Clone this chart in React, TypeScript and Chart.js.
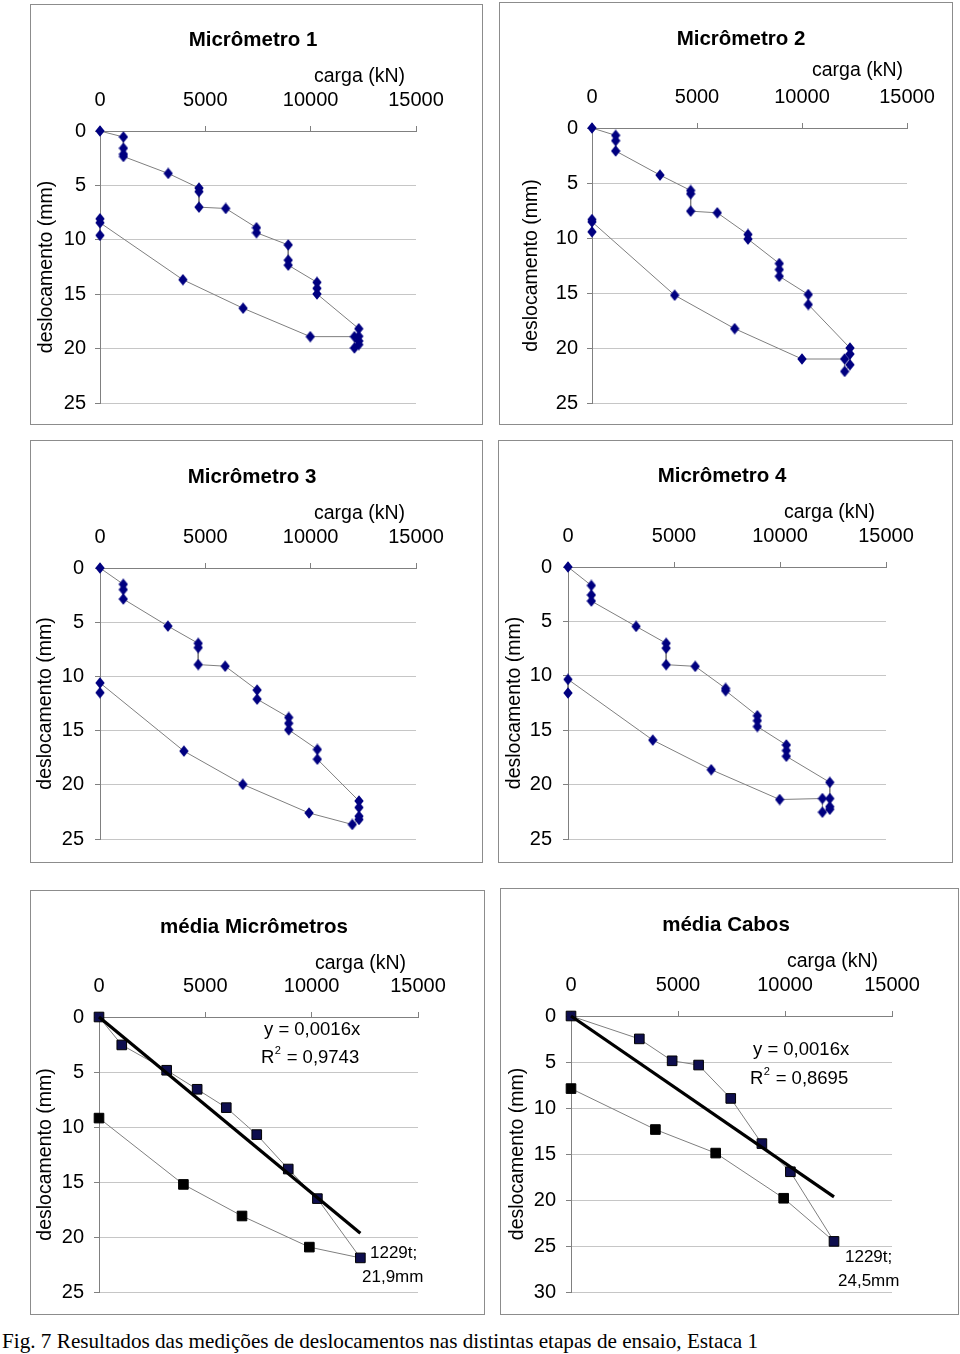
import React, { useEffect, useRef } from 'react';
import { Chart, registerables } from 'chart.js';
Chart.register(...registerables);

// ---------- DATA ----------
const xTickStep = 5000;
const xMax = 15000;
const yTickStep = 5;

// Micrômetro 1 (carga kN, deslocamento mm), in test order
const m1Load = [0, 1111, 1111, 1111, 1111, 3238, 4698, 4698, 4698, 5968, 7428, 7428, 8935, 8935, 8935, 10300, 10300, 10300, 12284, 12284, 12284, 12284, 12077, 12077, 9982, 6792, 3935, 0, 0, 0];
const m1Disp = [0, 0.55, 1.58, 2.13, 2.34, 3.9, 5.24, 5.57, 7.0, 7.12, 8.89, 9.35, 10.47, 11.87, 12.33, 13.91, 14.46, 14.98, 18.17, 18.87, 19.3, 19.63, 19.94, 18.9, 18.9, 16.29, 13.67, 8.43, 8.07, 9.59];

// Micrômetro 2
const m2Load = [0, 1127, 1127, 1127, 3238, 4698, 4698, 4698, 5967, 7427, 7427, 8919, 8919, 8919, 10300, 10300, 12284, 12284, 12284, 12030, 12030, 9998, 6792, 3936, 0, 0, 0];
const m2Disp = [0, 0.67, 1.15, 2.09, 4.28, 5.68, 5.98, 7.56, 7.71, 9.68, 10.1, 12.32, 12.87, 13.48, 15.14, 16.05, 20.0, 20.55, 21.52, 22.13, 21.0, 21.0, 18.24, 15.2, 8.53, 8.32, 9.44];

// Micrômetro 3
const m3Load = [0, 1106, 1106, 1106, 3223, 4661, 4661, 4661, 5941, 7458, 7458, 8959, 8959, 8959, 10318, 10318, 12292, 12292, 12292, 12292, 11976, 9922, 6778, 3982, 0, 0];
const m3Disp = [0, 1.5, 1.99, 2.86, 5.36, 6.95, 7.34, 8.91, 9.06, 11.26, 12.1, 13.79, 14.33, 14.93, 16.74, 17.64, 21.49, 22.09, 22.9, 23.2, 23.66, 22.6, 19.96, 16.89, 10.6, 11.5];

// Micrômetro 4
const m4Load = [0, 1102, 1102, 1102, 3213, 4630, 4630, 4630, 6000, 7434, 7434, 8930, 8930, 8930, 10300, 10300, 10300, 12348, 12348, 12348, 12348, 12000, 12000, 9985, 6757, 4000, 0, 0];
const m4Disp = [0, 1.7, 2.57, 3.13, 5.46, 7.01, 7.46, 8.98, 9.13, 11.16, 11.37, 13.67, 14.12, 14.66, 16.36, 16.87, 17.4, 19.79, 21.28, 22.03, 22.27, 22.54, 21.28, 21.37, 18.63, 15.91, 10.33, 11.58];

// média Micrômetros
const mediaMicLoadUp = [0, 1071, 3181, 4615, 5985, 7418, 8899, 10269, 12290];
const mediaMicDispUp = [0, 2.54, 4.84, 6.57, 8.24, 10.69, 13.82, 16.51, 21.9];
const mediaMicLoadDown = [9891, 6725, 3969, 0];
const mediaMicDispDown = [20.92, 18.09, 15.22, 9.19];

// média Cabos
const mediaCabosLoadUp = [0, 3193, 4726, 5963, 7465, 8920, 10251, 12290];
const mediaCabosDispUp = [0, 2.49, 4.87, 5.33, 8.96, 13.87, 16.93, 24.5];
const mediaCabosLoadDown = [9938, 6761, 3944, 0];
const mediaCabosDispDown = [19.81, 14.9, 12.34, 7.89];

// linear trend lines (y = 0,0016x)
const trendLoad = [0, 12290];
const trendDisp = [0, 19.66];

// ---------- STYLE / LAYOUT ----------
const SANS = "'Liberation Sans', Arial, Helvetica, sans-serif";
const LINE_GRAY = '#7f7f7f';
const NAVY = '#000080';

const pts = (xs: number[], ys: number[]) => xs.map((x, i) => ({ x, y: ys[i] }));

function makeDiamond(): HTMLCanvasElement {
  const c = document.createElement('canvas');
  c.width = 10; c.height = 12;
  const g = c.getContext('2d')!;
  g.fillStyle = NAVY;
  g.beginPath();
  g.moveTo(5, 0.2); g.lineTo(9.7, 6); g.lineTo(5, 11.8); g.lineTo(0.3, 6);
  g.closePath(); g.fill();
  return c;
}

function micDataset(xs: number[], ys: number[], diamond: HTMLCanvasElement) {
  return {
    data: pts(xs, ys),
    showLine: true,
    borderColor: LINE_GRAY,
    borderWidth: 1,
    pointStyle: diamond,
    pointRadius: 5,
    clip: false,
  };
}

function mediaDatasets(upX: number[], upY: number[], downX: number[], downY: number[]) {
  const last = upX.length - 1;
  const downData = [{ x: upX[last], y: upY[last] }, ...pts(downX, downY)];
  return [
    {
      data: pts(trendLoad, trendDisp),
      showLine: true, borderColor: '#000', borderWidth: 3.2, pointRadius: 0, clip: false, order: 0,
    },
    {
      data: downData,
      showLine: true, borderColor: LINE_GRAY, borderWidth: 1,
      pointStyle: 'rect', pointRadius: downData.map((_, i) => (i === 0 ? 0 : 6.8)),
      backgroundColor: '#000', pointBorderColor: '#000', pointBorderWidth: 1, clip: false, order: 2,
    },
    {
      data: pts(upX, upY),
      showLine: true, borderColor: LINE_GRAY, borderWidth: 1,
      pointStyle: 'rect', pointRadius: 6.8,
      backgroundColor: '#0e0e4e', pointBorderColor: '#000', pointBorderWidth: 1, clip: false, order: 1,
    },
  ];
}

type Note = { text: string; x: number; y: number; align: 'left' | 'right' | 'center'; sup?: string; rest?: string; size?: number; bold?: boolean };

type Panel = {
  box: { l: number; t: number; r: number; b: number };
  plot: { l: number; t: number; r: number; b: number };
  yMax: number;
  yTitleX: number;
  yTickGap: number;
  notes: Note[];
  datasets: () => any[];
};

function headerNotes(title: string, tx: number, ty: number, cargaRight: number, cargaY: number): Note[] {
  return [
    { text: title, x: tx, y: ty, align: 'center', size: 20.5, bold: true },
    { text: 'carga (kN)', x: cargaRight, y: cargaY, align: 'right', size: 19.5 },
  ];
}

// ---------- CHART ----------
function PanelChart({ p }: { p: Panel }) {
  const ref = useRef<HTMLCanvasElement>(null);
  const cl = p.box.l + 1, ct = p.box.t + 1;
  const cw = p.box.r - p.box.l - 1, ch = p.box.b - p.box.t - 1;

  useEffect(() => {
    const canvas = ref.current!;
    const notesPlugin = {
      id: 'panelNotes',
      afterDraw(chart: any) {
        const ctx = chart.ctx as CanvasRenderingContext2D;
        ctx.save();
        ctx.fillStyle = '#000';
        ctx.textBaseline = 'middle';
        for (const n of p.notes) {
          const size = n.size ?? 18.5;
          ctx.font = `${n.bold ? 'bold ' : ''}${size}px ${SANS}`;
          const x = n.x - cl, y = n.y - ct;
          if (n.sup !== undefined) {
            ctx.textAlign = 'left';
            ctx.fillText(n.text, x, y);
            const w1 = ctx.measureText(n.text).width;
            ctx.font = `${size * 0.6}px ${SANS}`;
            ctx.fillText(n.sup, x + w1 + 0.5, y - size * 0.38);
            const w2 = ctx.measureText(n.sup).width;
            ctx.font = `${size}px ${SANS}`;
            ctx.fillText(n.rest ?? '', x + w1 + w2 + 1, y);
          } else {
            ctx.textAlign = n.align;
            ctx.fillText(n.text, x, y);
          }
        }
        ctx.restore();
      },
    };

    const titleSize = 19.5;
    const lh = titleSize * 1.2;
    const chart = new Chart(canvas, {
      type: 'scatter',
      data: { datasets: p.datasets() },
      options: {
        responsive: false,
        animation: false,
        devicePixelRatio: 1,
        events: [],
        layout: {
          padding: { left: 0, top: 0, right: cl + cw - p.plot.r, bottom: ct + ch - p.plot.b },
        },
        plugins: { legend: { display: false }, tooltip: { enabled: false }, title: { display: false } },
        scales: {
          x: {
            type: 'linear',
            position: 'top',
            min: 0,
            max: xMax,
            ticks: {
              stepSize: xTickStep,
              color: '#000',
              font: { family: SANS, size: 20 },
              padding: 13.5,
              maxRotation: 0,
              autoSkip: false,
              callback: (v: any) => String(v),
            },
            grid: { drawOnChartArea: false, drawTicks: true, tickLength: 5, tickColor: '#808080', lineWidth: 1 },
            border: { color: '#808080', width: 1 },
            afterFit: (s: any) => { s.height = p.plot.t - ct; },
          },
          y: {
            type: 'linear',
            min: 0,
            max: p.yMax,
            reverse: true,
            ticks: {
              stepSize: yTickStep,
              color: '#000',
              font: { family: SANS, size: 20 },
              padding: p.yTickGap - 5,
              callback: (v: any) => String(v),
            },
            grid: {
              color: (c: any) => (c.tick && c.tick.value === 0 ? '#808080' : '#c6c6c6'),
              tickColor: '#808080',
              tickLength: 5,
              lineWidth: 1,
            },
            border: { color: '#808080', width: 1 },
            title: {
              display: true,
              text: 'deslocamento (mm)',
              color: '#000',
              font: { family: SANS, size: titleSize },
              padding: { top: p.yTitleX - cl - lh / 2, bottom: 0 },
            },
            afterFit: (s: any) => { s.width = p.plot.l - cl; },
          },
        },
      } as any,
      plugins: [notesPlugin],
    });
    return () => chart.destroy();
  }, []);

  return (
    <div
      style={{
        position: 'absolute',
        left: p.box.l,
        top: p.box.t,
        width: p.box.r - p.box.l + 1,
        height: p.box.b - p.box.t + 1,
        border: '1px solid #8c8c8c',
        boxSizing: 'border-box',
        background: '#fff',
      }}
    >
      <canvas ref={ref} width={cw} height={ch} style={{ display: 'block', width: cw, height: ch }} />
    </div>
  );
}

export default function App() {
  const diamond = makeDiamond();
  const panels: Panel[] = [
    {
      box: { l: 30, t: 4, r: 482, b: 424 },
      plot: { l: 100, t: 131, r: 416, b: 406 },
      yMax: 25, yTitleX: 47, yTickGap: 14,
      notes: headerNotes('Micrômetro 1', 253, 40, 405, 77),
      datasets: () => [micDataset(m1Load, m1Disp, diamond)],
    },
    {
      box: { l: 499, t: 2, r: 952, b: 424 },
      plot: { l: 592, t: 128, r: 907, b: 403 },
      yMax: 25, yTitleX: 532, yTickGap: 14,
      notes: headerNotes('Micrômetro 2', 741, 39, 903, 71),
      datasets: () => [micDataset(m2Load, m2Disp, diamond)],
    },
    {
      box: { l: 30, t: 440, r: 482, b: 862 },
      plot: { l: 100, t: 568, r: 416, b: 845 },
      yMax: 25, yTitleX: 46, yTickGap: 16,
      notes: headerNotes('Micrômetro 3', 252, 477, 405, 514),
      datasets: () => [micDataset(m3Load, m3Disp, diamond)],
    },
    {
      box: { l: 498, t: 440, r: 952, b: 862 },
      plot: { l: 568, t: 567, r: 886, b: 845 },
      yMax: 25, yTitleX: 515, yTickGap: 16,
      notes: headerNotes('Micrômetro 4', 722, 476, 875, 513),
      datasets: () => [micDataset(m4Load, m4Disp, diamond)],
    },
    {
      box: { l: 30, t: 890, r: 484, b: 1314 },
      plot: { l: 99, t: 1017, r: 418, b: 1296 },
      yMax: 25, yTitleX: 46, yTickGap: 15,
      notes: [
        ...headerNotes('média Micrômetros', 254, 927, 406, 964),
        { text: 'y = 0,0016x', x: 264, y: 1030, align: 'left' },
        { text: 'R', sup: '2', rest: ' = 0,9743', x: 261, y: 1058, align: 'left' },
        { text: '1229t;', x: 370, y: 1253, align: 'left', size: 17 },
        { text: '21,9mm', x: 362, y: 1277, align: 'left', size: 17 },
      ],
      datasets: () => mediaDatasets(mediaMicLoadUp, mediaMicDispUp, mediaMicLoadDown, mediaMicDispDown),
    },
    {
      box: { l: 500, t: 888, r: 958, b: 1314 },
      plot: { l: 571, t: 1016, r: 892, b: 1297 },
      yMax: 30, yTitleX: 518, yTickGap: 15,
      notes: [
        ...headerNotes('média Cabos', 726, 925, 878, 962),
        { text: 'y = 0,0016x', x: 753, y: 1050, align: 'left' },
        { text: 'R', sup: '2', rest: ' = 0,8695', x: 750, y: 1079, align: 'left' },
        { text: '1229t;', x: 845, y: 1257, align: 'left', size: 17 },
        { text: '24,5mm', x: 838, y: 1281, align: 'left', size: 17 },
      ],
      datasets: () => mediaDatasets(mediaCabosLoadUp, mediaCabosDispUp, mediaCabosLoadDown, mediaCabosDispDown),
    },
  ];

  return (
    <div style={{ position: 'absolute', left: 0, top: 0, width: 960, height: 1354, background: '#fff', overflow: 'hidden' }}>
      {panels.map((p, i) => (
        <PanelChart key={i} p={p} />
      ))}
      <div
        style={{
          position: 'absolute',
          left: 2,
          top: 1329,
          fontFamily: "'Liberation Serif', 'Times New Roman', serif",
          fontSize: 21.2,
          lineHeight: '24px',
          whiteSpace: 'nowrap',
          color: '#000',
        }}
      >
        Fig. 7 Resultados das medições de deslocamentos nas distintas etapas de ensaio, Estaca 1
      </div>
    </div>
  );
}
